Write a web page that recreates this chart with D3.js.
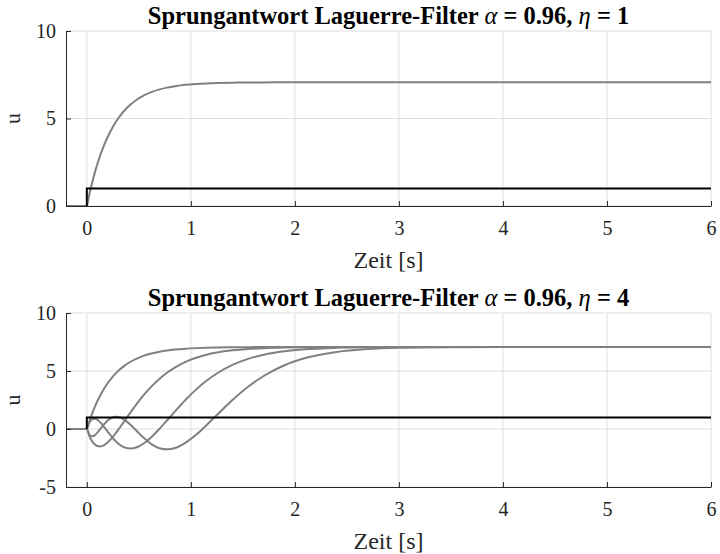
<!DOCTYPE html>
<html lang="de">
<head>
    <meta charset="UTF-8">
    <title>Sprungantwort Laguerre-Filter</title>
    <script src="https://d3js.org/d3.v7.min.js"></script>
    <style>
        html, body {
            margin: 0;
            padding: 0;
            background: #fff;
            overflow: hidden;
        }
        svg text {
            font-family: "Liberation Serif", "Times New Roman", "DejaVu Serif", serif;
        }
        .grid line {
            stroke: #dedede;
            stroke-width: 1;
        }
        .axis path, .axis line {
            stroke: #262626;
            stroke-width: 1;
        }
        .axis text {
            fill: #262626;
            font-size: 20px;
        }
        .curve {
            fill: none;
            stroke: #808080;
            stroke-width: 2;
        }
        .step {
            fill: none;
            stroke: #000;
            stroke-width: 2;
        }
    </style>
</head>
<body>
    <script>
        // time axis [s]
        const timeS = [-0.2, 0, 0.025, 0.05, 0.075, 0.1, 0.125, 0.15, 0.2, 0.25, 0.28, 0.32, 0.36,
            0.42, 0.48, 0.55, 0.62, 0.7, 0.77, 0.85, 0.95, 1.05, 1.15, 1.25, 1.4, 1.55, 1.7,
            1.9, 2.1, 2.4, 2.7, 3.0, 3.5, 4.0, 5.0, 6.0];

        // step responses of the Laguerre functions 1..4
        const uLag1 = [0, 0, 0.686, 1.304, 1.864, 2.368, 2.824, 3.236, 3.944, 4.521, 4.813, 5.155, 5.442,
            5.797, 6.072, 6.321, 6.507, 6.663, 6.765, 6.849, 6.924, 6.972, 7.005, 7.027, 7.047, 7.057, 7.063,
            7.067, 7.069, 7.07, 7.07, 7.07, 7.07, 7.07, 7.07, 7.07];
        const uLag2 = [0, 0, -0.617, -1.048, -1.323, -1.468, -1.506, -1.457, -1.159, -0.680, -0.341, 0.152, 0.661,
            1.432, 2.166, 2.957, 3.655, 4.342, 4.845, 5.319, 5.789, 6.137, 6.398, 6.587, 6.779, 6.897, 6.967,
            7.020, 7.046, 7.062, 7.067, 7.07, 7.07, 7.07, 7.07, 7.07];
        const uLag3 = [0, 0, 0.553, 0.824, 0.889, 0.803, 0.616, 0.364, -0.220, -0.784, -1.073, -1.379, -1.582,
            -1.685, -1.577, -1.227, -0.707, 0.032, 0.734, 1.543, 2.526, 3.394, 4.154, 4.784, 5.522, 6.044, 6.402,
            6.702, 6.871, 6.994, 7.042, 7.059, 7.068, 7.07, 7.07, 7.07];
        const uLag4 = [0, 0, -0.493, -0.633, -0.547, -0.329, -0.049, 0.243, 0.740, 1.017, 1.063, 0.997, 0.806,
            0.365, -0.170, -0.786, -1.298, -1.654, -1.756, -1.642, -1.176, -0.505, 0.329, 1.203, 2.497, 3.638, 4.571,
            5.497, 6.116, 6.642, 6.889, 6.996, 7.054, 7.067, 7.07, 7.07];

        // input step
        const stepT = [0, 0, 6];
        const stepU = [0, 1, 1];

        const xTicks = [0, 1, 2, 3, 4, 5, 6];
        const yTicksTop = [0, 5, 10];
        const yTicksBottom = [-5, 0, 5, 10];

        const width = 720, height = 554;
        const left = 66, right = 711;
        const serif = "'Liberation Serif', 'Times New Roman', serif";

        const svg = d3.select("body").append("svg")
            .attr("width", width)
            .attr("height", height);

        const x = d3.scaleLinear().domain([-0.2, 6]).range([left, right]);

        const panels = [
            { top: 31, bottom: 206, yDomain: [0, 10], yTicks: yTicksTop, series: [uLag1], eta: 1 },
            { top: 313, bottom: 487, yDomain: [-5, 10], yTicks: yTicksBottom, series: [uLag1, uLag2, uLag3, uLag4], eta: 4 }
        ];

        panels.forEach(p => {
            const y = d3.scaleLinear().domain(p.yDomain).range([p.bottom, p.top]);
            const g = svg.append("g");

            // grid
            const grid = g.append("g").attr("class", "grid");
            grid.selectAll(".gx").data(xTicks).join("line")
                .attr("x1", d => x(d)).attr("x2", d => x(d))
                .attr("y1", p.top).attr("y2", p.bottom);
            grid.selectAll(".gy").data(p.yTicks).join("line")
                .attr("x1", left).attr("x2", right)
                .attr("y1", d => y(d)).attr("y2", d => y(d));

            // curves
            const line = d3.line()
                .x((d, i) => x(timeS[i]))
                .y(d => y(d))
                .curve(d3.curveMonotoneX);
            g.selectAll(".curve").data(p.series).join("path")
                .attr("class", "curve")
                .attr("d", line);

            // input step
            g.append("path")
                .attr("class", "step")
                .attr("d", d3.line().x((d, i) => x(stepT[i])).y(d => y(d))(stepU));

            // axes (hyphen minus like the original)
            g.append("g")
                .attr("class", "axis")
                .attr("transform", `translate(0,${p.bottom})`)
                .call(d3.axisBottom(x).tickValues(xTicks).tickSize(-5).tickSizeOuter(0).tickPadding(15).tickFormat(d => String(d)))
                .attr("font-family", serif);
            g.append("g")
                .attr("class", "axis")
                .attr("transform", `translate(${left},0)`)
                .call(d3.axisLeft(y).tickValues(p.yTicks).tickSize(-5).tickSizeOuter(0).tickPadding(10).tickFormat(d => String(d)))
                .attr("font-family", serif);

            // labels
            g.append("text")
                .attr("x", (left + right) / 2)
                .attr("y", p.bottom + 62)
                .attr("text-anchor", "middle")
                .attr("font-family", serif)
                .attr("font-size", 24)
                .attr("fill", "#262626")
                .text("Zeit [s]");

            g.append("text")
                .attr("transform", `translate(20,${(p.top + p.bottom) / 2}) rotate(-90)`)
                .attr("text-anchor", "middle")
                .attr("font-family", serif)
                .attr("font-size", 22)
                .attr("fill", "#262626")
                .text("u");

            const title = g.append("text")
                .attr("x", (left + right) / 2)
                .attr("y", p.top - 7)
                .attr("text-anchor", "middle")
                .attr("font-family", serif)
                .attr("font-size", 24.5)
                .attr("font-weight", "bold")
                .attr("fill", "#000");
            title.append("tspan").text("Sprungantwort Laguerre-Filter ");
            title.append("tspan").attr("font-style", "italic").attr("font-weight", "normal").text("α");
            title.append("tspan").text(" = 0.96, ");
            title.append("tspan").attr("font-style", "italic").attr("font-weight", "normal").text("η");
            title.append("tspan").text(` = ${p.eta}`);
        });
    </script>
</body>
</html>
